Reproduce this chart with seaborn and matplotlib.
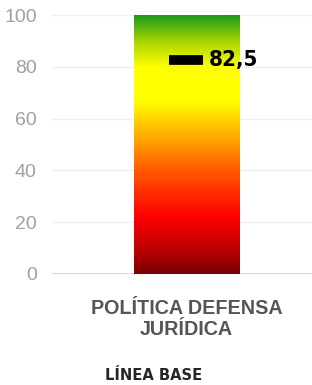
import numpy as np
import pandas as pd
import seaborn as sns
import matplotlib.pyplot as plt
from matplotlib.colors import LinearSegmentedColormap

# data
categories = ["POLÍTICA DEFENSA\nJURÍDICA"]
bar_values = [100]
baseline_values = [82.5]
baseline_labels = ["82,5"]

# gradient stops (value fraction, colour) from bottom to top
grad_stops = [0.0, 0.10, 0.22, 0.40, 0.52, 0.67, 0.80, 0.90, 1.0]
grad_colors = ["#7a0000", "#c00000", "#ff0000", "#ff5a00", "#ffa500",
               "#ffff00", "#ffff00", "#a8d400", "#1a9a1a"]

sns.set_style("white")
plt.rcParams['font.family'] = ['Liberation Sans', 'DejaVu Sans']

fig = plt.figure(figsize=(3.12, 3.85), dpi=100)
ax = fig.add_axes([52 / 312, 1 - 274 / 385, 260 / 312, 259 / 385])

df = pd.DataFrame({"cat": categories, "val": bar_values})
sns.barplot(data=df, x="cat", y="val", width=0.404, color="white", ax=ax)

# fill the bar with a vertical gradient
cmap = LinearSegmentedColormap.from_list("grad", list(zip(grad_stops, grad_colors)))
for patch in ax.patches:
    x0, y0 = patch.get_x(), patch.get_y()
    w, h = patch.get_width(), patch.get_height()
    grad = np.linspace(0, 1, 256).reshape(-1, 1)
    im = ax.imshow(grad, cmap=cmap, origin="lower", aspect="auto",
                   extent=[x0, x0 + w, y0, y0 + h], zorder=2)
    im.set_clip_path(patch)
    patch.set_edgecolor("none")
ax.set_xlim(-0.517, 0.483)
ax.set_ylim(0, 100)

# baseline marker
xs = np.arange(len(categories))
ax.plot(xs, baseline_values, linestyle="none", marker="_", markersize=25,
        markeredgewidth=7, color="black", zorder=4)
for x, v, lab in zip(xs, baseline_values, baseline_labels):
    ax.annotate(lab, (x, v), xytext=(16, 0), textcoords="offset points",
                va="center", ha="left", fontsize=16, fontweight="bold",
                family="DejaVu Sans", fontstretch="condensed", color="black")

# grid
ax.set_yticks([0, 20, 40, 60, 80, 100])
ax.yaxis.grid(True, color="#efefef", linewidth=1)
ax.axhline(0, color="#cfcfcf", linewidth=1.2, zorder=1)
ax.set_axisbelow(True)
for s in ax.spines.values():
    s.set_visible(False)

ax.tick_params(axis="y", length=0, pad=11, labelsize=14, labelcolor="#a0a0a0")
ax.tick_params(axis="x", length=0, pad=18)
ax.set_xticks(xs)
ax.set_xticklabels(categories, fontsize=14.2, fontweight="bold", color="#555555",
                   linespacing=1.15)
ax.set_xlabel("")
ax.set_ylabel("")

fig.text(105 / 312, 1 - 376 / 385, "LÍNEA BASE", fontsize=11.8, fontweight="bold",
         family="DejaVu Sans", fontstretch="condensed", va="center", ha="left")

fig.savefig("out.png", dpi=100)
